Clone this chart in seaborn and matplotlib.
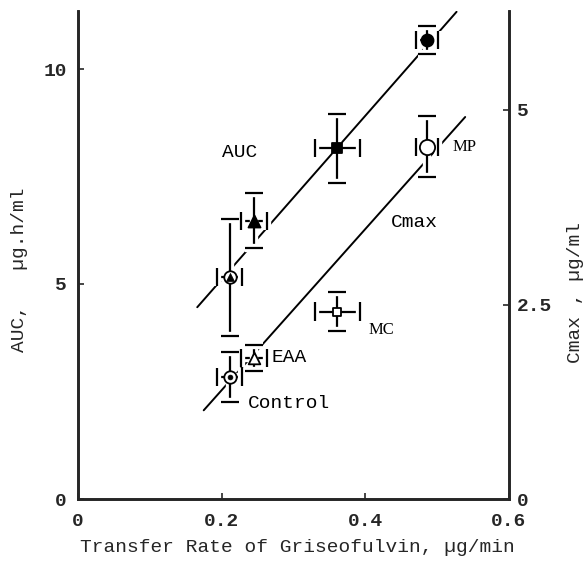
import matplotlib
matplotlib.use("Agg")
import matplotlib.pyplot as plt
import matplotlib.patheffects as pe
import numpy as np
import pandas as pd
import seaborn as sns

# ---- data ----
groups = ["Control", "EAA", "MC", "MP"]
rate = [0.211, 0.245, 0.361, 0.486]
rate_err = [0.017, 0.018, 0.031, 0.015]
auc = [5.16, 6.47, 8.16, 10.67]
auc_err = [1.36, 0.64, 0.80, 0.33]
cmax = [1.57, 1.81, 2.41, 4.53]
cmax_err = [0.32, 0.17, 0.25, 0.39]

# fitted lines as drawn in the reference (end points)
auc_line_x = [0.166, 0.527]
auc_line_y = [4.46, 11.33]
cmax_line_x = [0.175, 0.539]
cmax_line_y = [1.14, 4.91]

x_ticks = [0, 0.2, 0.4, 0.6]
x_ticklabels = ["0", "0.2", "0.4", "0.6"]
auc_ticks = [0, 5, 10]
cmax_ticks = [0, 2.5, 5]
cmax_ticklabels = ["0", "2.5", "5"]

df = pd.DataFrame({"group": groups, "rate": rate, "rate_err": rate_err,
                   "auc": auc, "auc_err": auc_err,
                   "cmax": cmax, "cmax_err": cmax_err})

sns.set_theme(style="ticks")
plt.rcParams["font.family"] = ["Liberation Mono", "DejaVu Sans"]
plt.rcParams["axes.linewidth"] = 1.9

W, H = 583, 566
fig = plt.figure(figsize=(W / 100, H / 100), dpi=100)
L, R, B, T = 78, 509, 499, 11
ax = fig.add_axes([L / W, (H - B) / H, (R - L) / W, (B - T) / H])
ax2 = ax.twinx()

ax.set_xlim(0, 0.6)
ax.set_ylim(0, (B - T) / 43.0)
ax2.set_ylim(0, (B - T) / 77.8)

halo = [pe.withStroke(linewidth=6, foreground="white")]

# regression lines
sns.lineplot(x=auc_line_x, y=auc_line_y, ax=ax, color="black", lw=1.4, zorder=1)
sns.lineplot(x=cmax_line_x, y=cmax_line_y, ax=ax2, color="black", lw=1.4, zorder=1)


def errs(a, xcol, ycol, xe, ye):
    c = a.errorbar(df[xcol], df[ycol], xerr=df[xe], yerr=df[ye], fmt="none",
                   ecolor="black", elinewidth=1.6, capsize=6.5, capthick=1.6,
                   zorder=3)
    for art in list(c[1]) + list(c[2]):
        art.set_path_effects(halo)


errs(ax, "rate", "auc", "rate_err", "auc_err")
errs(ax2, "rate", "cmax", "rate_err", "cmax_err")

# AUC markers (filled)
auc_style = {"Control": ("o", 80, "white"), "EAA": ("^", 75, "black"),
             "MC": ("s", 55, "black"), "MP": ("o", 75, "black")}
for _, r in df.iterrows():
    m, s, fc = auc_style[r["group"]]
    sns.scatterplot(x=[r["rate"]], y=[r["auc"]], ax=ax, marker=m, s=s,
                    color=fc, edgecolor="black", linewidth=1.3, zorder=4)
    if r["group"] == "Control":
        sns.scatterplot(x=[r["rate"]], y=[r["auc"]], ax=ax, marker="^", s=34,
                        color="black", edgecolor="black", linewidth=0.5, zorder=5)

# Cmax markers (open)
cmax_style = {"Control": ("o", 80), "EAA": ("^", 70), "MC": ("s", 40), "MP": ("o", 120)}
for _, r in df.iterrows():
    m, s = cmax_style[r["group"]]
    sns.scatterplot(x=[r["rate"]], y=[r["cmax"]], ax=ax2, marker=m, s=s,
                    color="white", edgecolor="black", linewidth=1.3, zorder=4)
    if r["group"] == "Control":
        sns.scatterplot(x=[r["rate"]], y=[r["cmax"]], ax=ax2, marker="o", s=12,
                        color="black", edgecolor="black", linewidth=0.5, zorder=5)

# text labels (on AUC axis coordinates)
mono = dict(fontsize=14, color="black")
ax.text(0.2255, 8.05, "AUC", ha="center", va="center", **mono)
ax.text(0.468, 6.44, "Cmax", ha="center", va="center", **mono)
ax.text(0.270, 3.28, "EAA", ha="left", va="center", **mono)
ax.text(0.2367, 2.23, "Control", ha="left", va="center", **mono)
serif = dict(fontsize=12, color="black", family="Liberation Serif")
ax.text(0.522, 8.19, "MP", ha="left", va="center", **serif)
ax.text(0.404, 3.93, "MC", ha="left", va="center", **serif)

# axes styling
for a in (ax, ax2):
    a.spines["top"].set_visible(False)
    a.grid(False)
ax.spines["right"].set_visible(True)

ax.set_xticks(x_ticks)
ax.set_xticklabels(x_ticklabels, fontsize=14, fontweight="bold")
ax.set_yticks(auc_ticks)
ax.set_yticklabels([str(v) for v in auc_ticks], fontsize=14, fontweight="bold")
ax2.set_yticks(cmax_ticks)
ax2.set_yticklabels(cmax_ticklabels, fontsize=14, fontweight="bold")
ax.tick_params(axis="x", direction="in", length=4, width=1.2, pad=10)
ax.tick_params(axis="y", direction="in", length=4, width=1.2, pad=8)
ax2.tick_params(axis="y", direction="in", length=4, width=1.2, pad=6)

ax.set_xlabel("Transfer Rate of Griseofulvin, \u00b5g/min", fontsize=14)
ax.xaxis.set_label_coords(0.508, -0.082)
ax.set_ylabel("AUC,   \u00b5g.h/ml", fontsize=14)
ax.yaxis.set_label_coords(-0.116, 0.47)
ax2.set_ylabel("Cmax , \u00b5g/ml", fontsize=14, rotation=90)
ax2.yaxis.set_label_coords(1.135, 0.424)

fig.savefig("out.png", dpi=100)
